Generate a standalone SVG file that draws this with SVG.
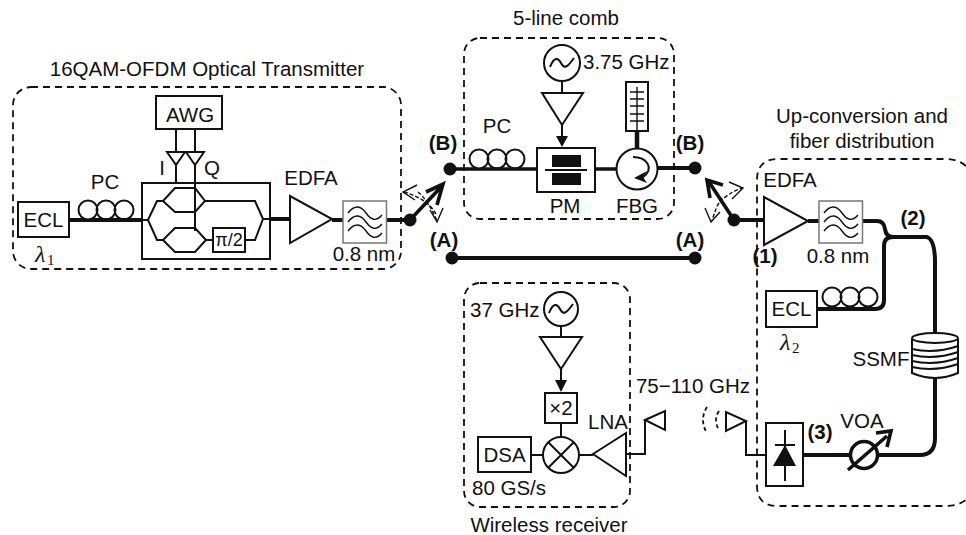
<svg xmlns="http://www.w3.org/2000/svg" width="966" height="535" viewBox="0 0 966 535">
<defs>
<style>
text{font-family:"Liberation Sans",Arial,sans-serif;font-size:20.5px;fill:#111}
.b{font-weight:bold}
.m{text-anchor:middle}
.lam{font-family:"Liberation Serif",serif;font-size:24px;font-style:italic}
.sub{font-family:"Liberation Serif",serif;font-size:15px}
.box{fill:none;stroke:#111;stroke-width:2}
.fill{fill:#fff;stroke:#111;stroke-width:2}
.dash{fill:none;stroke:#111;stroke-width:1.8;stroke-dasharray:7 5}
.thin{fill:none;stroke:#111;stroke-width:2}
.hair{fill:none;stroke:#111;stroke-width:1.4}
.thick{fill:none;stroke:#111;stroke-width:4}
.mid{fill:none;stroke:#111;stroke-width:3.6}
.dot{fill:#111}
.blk{fill:#111;stroke:none}
.filter{fill:#fff;stroke:#777;stroke-width:1.5}
.da{fill:none;stroke:#111;stroke-width:1.4;stroke-dasharray:4 2}
.wv{stroke-dasharray:4 3;stroke-width:1.8}
</style>
<g id="coil"><circle cx="0" cy="0" r="9.500" class="fill"/><circle cx="18" cy="0" r="9.500" class="box"/><circle cx="36" cy="0" r="9.500" class="box"/></g>
<g id="wav"><rect x="0" y="0" width="43.500" height="42" class="filter"/>
<path class="hair" d="M5 12C12 3 18 5 23 12S33 21 39 14M5 21C12 12 18 14 23 21S33 30 39 23M5 30C12 21 18 23 23 30S33 39 39 32"/></g>
<g id="osc"><path class="thin" d="M-12 4C-8 -6 -4 -6 -1 0S5 5 12 -5"/></g>
</defs>

<g id="connectors">
<path class="thick" d="M69 220H142"/>
<path class="thick" d="M270 219H290M332 220H343M387 220H410"/>
<path class="thin" d="M176 129V152M195 129V152M176 165V183"/>
<path class="thin" d="M195 165V231"/>
<path class="mid" d="M450 169H537M595 169H617"/>
<path class="thick" d="M657 168H695"/>
<path class="thick" d="M452 258H695"/>
<path class="thick" d="M637 131V149" style="stroke-width:4.500"/>
<path class="thin" d="M562 81V93M562 125V137M561 326V337M561 369V381M561 423V437M531 455H543M579 455H593"/>
<path class="thick" d="M734 220H764M808 221H819"/>
<path class="thick" d="M862 221H877Q884 221 885 229Q886 237 893 237H927Q935 240 935 262V333M935 378V438Q935 455 920 455H803"/>
<path class="thick" d="M817 309H875Q884 309 884 300V246Q884 237 893 237"/>
<path class="thin" d="M626 454H645V420"/>
<path class="thin" d="M746 421V455H766"/>
</g>

<g id="transmitter">
<rect x="13" y="87" width="388" height="182" rx="18" class="dash"/>
<text x="207" y="76" class="m">16QAM-OFDM Optical Transmitter</text>
</g>
<g id="ecl1"><rect x="18" y="202" width="51" height="35" class="box"/><text x="43.500" y="227" class="m">ECL</text>
<text x="35" y="262" class="lam">λ</text><text x="47" y="265" class="sub">1</text></g>
<g id="pc1"><use href="#coil" x="88" y="210"/><text x="105" y="189" class="m">PC</text></g>
<g id="awg"><rect x="156" y="96" width="66" height="33" class="box"/><text x="190" y="122" class="m">AWG</text></g>
<g id="drivers"><path class="thin" d="M167 152H185L176 165ZM186 152H204L195 165Z"/>
<text x="162" y="175" class="m">I</text><text x="212" y="175" class="m">Q</text></g>
<g id="iqm"><rect x="142" y="183" width="128" height="76" class="box"/>
<path class="thin" d="M142 220H148L157 201H163L175 188H195L205 201L195 212H175L163 201M205 201H255L263 219H270M148 220L157 240H163L175 228H195L206 240L195 252H175L163 240M206 240H213M245 240H255L263 219"/>
<rect x="213" y="228" width="32" height="24" class="box"/><text x="229" y="246" class="m" style="font-size:18px">π/2</text></g>
<g id="edfa1"><path class="fill" d="M290 196V243L332 219Z"/><text x="311" y="185" class="m">EDFA</text></g>
<g id="filter1"><use href="#wav" x="343" y="201"/><text x="364" y="261" class="m">0.8 nm</text></g>
<g id="switch-left"><circle cx="410" cy="220" r="6.500" class="dot"/>
<path class="mid" d="M410 220L441 187M426 192L443 184L437 205"/>
<path class="da" d="M436 214Q428 199 404 192M418 192Q428 200 437 221"/>
<path class="hair" d="M417 185L403 192L415 200M430 210L437 222L443 208"/></g>

<g id="comb"><rect x="464" y="38" width="210" height="181" rx="16" class="dash"/><text x="566" y="25" class="m">5-line comb</text></g>
<g id="point-b-left"><circle cx="450" cy="169" r="6.500" class="dot"/><text x="443" y="150" class="m b">(B)</text></g>
<g id="pc2"><use href="#coil" x="479" y="159"/><text x="497" y="133" class="m">PC</text></g>
<g id="osc1"><circle cx="562" cy="63" r="18" class="box"/><use href="#osc" x="562" y="63"/><text x="583" y="69">3.75 GHz</text></g>
<g id="amp1"><path class="thin" d="M542 93H583L562 125Z"/><path class="blk" d="M556 136H568L562 147Z"/></g>
<g id="pm"><rect x="537" y="148" width="58" height="44" class="box"/>
<rect x="552" y="155" width="29" height="12" class="blk"/><rect x="552" y="173" width="29" height="12" class="blk"/>
<path class="thin" d="M545 170H587"/><text x="565" y="213" class="m">PM</text></g>
<g id="fbg"><rect x="626" y="82" width="22" height="49" class="box"/>
<path class="hair" d="M637 87V131M630 92H644M630 99H644M630 106H644M630 114H644M630 121H644"/></g>
<g id="circulator"><circle cx="637" cy="169" r="20.500" class="fill"/>
<path class="thin" d="M633 157C646 157 656 168 642 178"/><path class="blk" d="M647 171L634 178L647 183L643 177Z"/>
<text x="637" y="213" class="m">FBG</text></g>
<g id="point-b-right"><circle cx="695" cy="168" r="6.500" class="dot"/><text x="690" y="150" class="m b">(B)</text></g>
<g id="point-a-left"><circle cx="452" cy="258" r="6.500" class="dot"/><text x="444" y="247" class="m b">(A)</text></g>
<g id="point-a-right"><circle cx="695" cy="258" r="6.500" class="dot"/><text x="690" y="247" class="m b">(A)</text></g>

<g id="switch-right"><circle cx="734" cy="220" r="6.500" class="dot"/>
<path class="mid" d="M734 220L709 182M710 198L707 180L723 185"/>
<path class="da" d="M720 202Q728 193 742 188M722 198Q716 206 712 221"/>
<path class="hair" d="M729 182L743 188L732 199M705 208L711 222L720 212"/></g>

<g id="upconversion"><path class="dash" d="M966 166Q958 159 945 159H778Q757 159 757 180V486Q757 506 778 506H945Q958 506 966 500"/>
<text x="862" y="123" class="m">Up-conversion and</text><text x="862" y="148" class="m">fiber distribution</text></g>
<g id="edfa2"><path class="fill" d="M764 197V245L808 221Z"/><text x="790" y="187" class="m">EDFA</text><text x="765" y="263" class="m b">(1)</text></g>
<g id="filter2"><use href="#wav" x="819" y="201"/><text x="838" y="263" class="m">0.8 nm</text></g>
<text x="913" y="225" class="m b">(2)</text>
<g id="ecl2"><rect x="766" y="291" width="51" height="36" class="box"/><text x="791.500" y="316" class="m">ECL</text>
<text x="780" y="350" class="lam">λ</text><text x="792" y="353" class="sub">2</text></g>
<g id="pc3"><use href="#coil" x="832" y="297"/></g>
<g id="ssmf"><path class="fill" d="M912 339V373Q935 383 958 373V339"/><ellipse cx="935" cy="338" rx="23" ry="5" class="fill"/>
<path class="thin" d="M912 349Q935 354 958 346M912 355Q935 360 958 352M912 361Q935 366 958 358M912 367Q935 372 958 364"/>
<text x="881" y="366" class="m">SSMF</text></g>
<g id="voa"><circle cx="864" cy="455" r="13.500" class="fill" style="stroke-width:3.500"/>
<path class="mid" d="M848 470L887 436M876 433L891 431L887 447"/><text x="862" y="428" class="m">VOA</text></g>
<g id="pd"><rect x="766" y="423" width="37" height="63" class="box"/>
<path class="thin" d="M785 430V481M775 445H795"/><path class="blk" d="M785 445L796 466H773Z"/></g>
<text x="820" y="439" class="m b">(3)</text>
<g id="tx-antenna"><path class="thin" d="M726 412V431L746 421Z"/>
<path class="hair wv" d="M707 407Q699 420 707 433M719 411Q713 420 719 430"/></g>

<g id="receiver"><rect x="464" y="283" width="166" height="224" rx="16" class="dash"/>
<text x="549" y="532" class="m">Wireless receiver</text></g>
<g id="osc2"><circle cx="561" cy="309" r="17" class="box"/><use href="#osc" x="561" y="309"/><text x="470" y="317">37 GHz</text></g>
<g id="amp2"><path class="thin" d="M540 337H582L561 369Z"/><path class="blk" d="M555 380H567L561 392Z"/></g>
<g id="doubler"><rect x="545" y="393" width="32" height="30" class="box"/><text x="561" y="415" class="m">×2</text></g>
<g id="mixer"><circle cx="561" cy="455" r="18" class="box"/><path class="thin" d="M548 442L574 468M574 442L548 468"/></g>
<g id="dsa"><rect x="478" y="437" width="53" height="35" class="box"/><text x="504.500" y="462" class="m">DSA</text><text x="472" y="495">80 GS/s</text></g>
<g id="lna"><path class="fill" d="M593 454L626 433V476Z"/><text x="608" y="429" class="m">LNA</text></g>
<g id="rx-antenna"><path class="thin" d="M645 420L665 411V430Z"/></g>
<text x="693" y="393" class="m">75−110 GHz</text>
</svg>
